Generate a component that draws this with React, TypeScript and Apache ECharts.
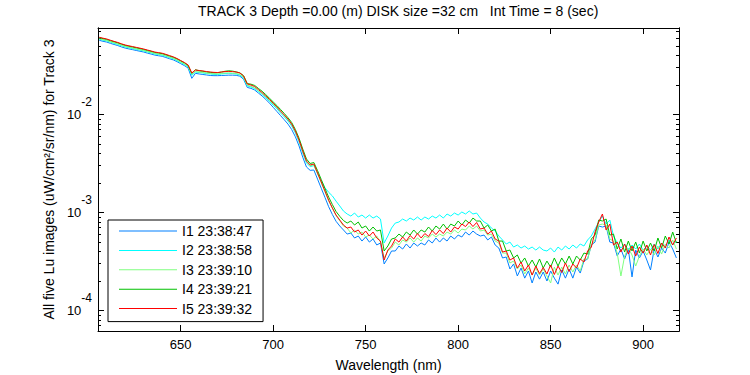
import React, { useEffect, useRef } from "react";
import * as echarts from "echarts";

const wavelengths = [
  606, 608, 610, 612, 614, 616, 618, 620, 622, 624,
  626, 628, 630, 632, 634, 636, 638, 640, 642, 644,
  646, 648, 650, 652, 654, 656, 658, 660, 662, 664,
  666, 668, 670, 672, 674, 676, 678, 680, 682, 684,
  686, 688, 690, 692, 694, 696, 698, 700, 702, 704,
  706, 708, 710, 712, 714, 716, 718, 720, 722, 724,
  726, 728, 730, 732, 734, 736, 738, 740, 742, 744,
  746, 748, 750, 752, 754, 756, 758, 760, 762, 764,
  766, 768, 770, 772, 774, 776, 778, 780, 782, 784,
  786, 788, 790, 792, 794, 796, 798, 800, 802, 804,
  806, 808, 810, 812, 814, 816, 818, 820, 822, 824,
  826, 828, 830, 832, 834, 836, 838, 840, 842, 844,
  846, 848, 850, 852, 854, 856, 858, 860, 862, 864,
  866, 868, 870, 872, 874, 876, 878, 880, 882, 884,
  886, 888, 890, 892, 894, 896, 898, 900, 902, 904,
  906, 908, 910, 912, 914, 916, 918,
];

const i1 = [
  0.0569, 0.0556, 0.0546, 0.053, 0.0516, 0.0503, 0.0487, 0.0474, 0.0465, 0.0457,
  0.0448, 0.044, 0.0432, 0.0421, 0.0412, 0.0402, 0.0396, 0.0391, 0.038, 0.0369,
  0.0359, 0.0345, 0.0329, 0.0314, 0.0297, 0.0233, 0.0262, 0.0258, 0.0255, 0.0252,
  0.0249, 0.0248, 0.0248, 0.0249, 0.025, 0.0251, 0.0251, 0.025, 0.0245, 0.0228,
  0.0188, 0.0184, 0.0177, 0.0165, 0.0154, 0.0142, 0.013, 0.0118, 0.0107, 0.0097,
  0.0088, 0.00795, 0.007, 0.0059, 0.00475, 0.00365, 0.0029, 0.00268, 0.0027, 0.00218,
  0.00176, 0.00142, 0.00114, 0.00095, 0.00081, 0.000725, 0.00066, 0.0006, 0.000615, 0.000547,
  0.000573, 0.000509, 0.00056, 0.000497, 0.000534, 0.000464, 0.000486, 0.000297, 0.000342, 0.000403,
  0.000403, 0.000453, 0.000422, 0.000475, 0.000432, 0.000486, 0.000453, 0.000486, 0.000464, 0.000522,
  0.000486, 0.000547, 0.000497, 0.000547, 0.000509, 0.000573, 0.000534, 0.000586, 0.00056, 0.000629,
  0.000586, 0.000644, 0.0006, 0.000573, 0.000586, 0.000522, 0.00056, 0.000464, 0.000432, 0.000342,
  0.00035, 0.000264, 0.000297, 0.000224, 0.00027, 0.000213, 0.000252, 0.00019, 0.000246, 0.000208,
  0.000246, 0.000199, 0.000252, 0.000213, 0.000185, 0.000258, 0.000213, 0.000264, 0.000213, 0.000276,
  0.00024, 0.000318, 0.000334, 0.000464, 0.000497, 0.000725, 0.000708, 0.000725, 0.000497, 0.000486,
  0.000358, 0.000422, 0.000334, 0.000422, 0.000219, 0.000412, 0.000342, 0.000403, 0.000326, 0.000258,
  0.000422, 0.00035, 0.000432, 0.000384, 0.000497, 0.000422, 0.000342,
];

const i2 = [
  0.0584, 0.0571, 0.0561, 0.0544, 0.053, 0.0517, 0.05, 0.0487, 0.0478, 0.0469,
  0.046, 0.0452, 0.0443, 0.0433, 0.0423, 0.0413, 0.0407, 0.0401, 0.0391, 0.0379,
  0.0369, 0.0354, 0.0338, 0.0323, 0.0305, 0.025, 0.027, 0.0267, 0.0264, 0.0261,
  0.0258, 0.0256, 0.0255, 0.0258, 0.0261, 0.0262, 0.0261, 0.0258, 0.0252, 0.0235,
  0.0195, 0.019, 0.0183, 0.0171, 0.016, 0.0147, 0.0136, 0.0124, 0.0114, 0.0103,
  0.0094, 0.00855, 0.0076, 0.00645, 0.00522, 0.00403, 0.00319, 0.00292, 0.003, 0.0025,
  0.0021, 0.00178, 0.0016, 0.00147, 0.0013, 0.00116, 0.00103, 0.000961, 0.000916, 0.000983,
  0.000895, 0.000938, 0.000874, 0.000938, 0.000874, 0.000916, 0.000854, 0.000486, 0.000573, 0.000691,
  0.000777, 0.000796, 0.000854, 0.000815, 0.000874, 0.000834, 0.000895, 0.000834, 0.000895, 0.000854,
  0.000916, 0.000874, 0.000938, 0.000874, 0.000961, 0.000916, 0.000983, 0.000938, 0.001007, 0.000961,
  0.001031, 0.000961, 0.000983, 0.000874, 0.000796, 0.000759, 0.000691, 0.000644, 0.000573, 0.000522,
  0.000475, 0.000497, 0.000442, 0.000464, 0.000432, 0.000453, 0.000422, 0.000442, 0.000412, 0.000442,
  0.000412, 0.000403, 0.000432, 0.000393, 0.000442, 0.000412, 0.000453, 0.000422, 0.000464, 0.000432,
  0.000475, 0.000453, 0.000522, 0.000573, 0.000675, 0.000796, 0.000916, 0.000759, 0.000834, 0.000573,
  0.000486, 0.000432, 0.000475, 0.000412, 0.000464, 0.000422, 0.000475, 0.000412, 0.000453, 0.000412,
  0.000475, 0.000422, 0.000486, 0.000442, 0.000522, 0.000464, 0.000509,
];

const i3 = [
  0.059, 0.0577, 0.0566, 0.055, 0.0536, 0.0522, 0.0506, 0.0492, 0.0483, 0.0474,
  0.0465, 0.0456, 0.0448, 0.0437, 0.0428, 0.0417, 0.0411, 0.0405, 0.0395, 0.0383,
  0.0372, 0.0358, 0.0342, 0.0326, 0.0308, 0.0256, 0.0273, 0.027, 0.0267, 0.0263,
  0.0261, 0.0259, 0.0258, 0.0261, 0.0264, 0.0264, 0.0263, 0.0261, 0.0255, 0.0238,
  0.0198, 0.0193, 0.0186, 0.0174, 0.0163, 0.0151, 0.0139, 0.0127, 0.0117, 0.0106,
  0.00966, 0.0088, 0.00782, 0.00662, 0.00537, 0.00414, 0.00328, 0.00298, 0.00305, 0.00247,
  0.002, 0.00162, 0.00131, 0.0011, 0.000925, 0.00082, 0.000725, 0.000691, 0.000615, 0.00066,
  0.0006, 0.000629, 0.00056, 0.000586, 0.000534, 0.000573, 0.000497, 0.000342, 0.000403, 0.000432,
  0.000497, 0.000464, 0.000522, 0.000497, 0.000547, 0.000497, 0.000547, 0.000509, 0.000573, 0.000547,
  0.0006, 0.00056, 0.0006, 0.000573, 0.000629, 0.0006, 0.00066, 0.000615, 0.000675, 0.00066,
  0.000725, 0.000675, 0.000725, 0.000644, 0.00066, 0.000586, 0.0006, 0.000509, 0.000486, 0.000384,
  0.000384, 0.000304, 0.000318, 0.000264, 0.00029, 0.000235, 0.00027, 0.000229, 0.00027, 0.000229,
  0.000264, 0.000224, 0.00019, 0.000276, 0.000229, 0.000276, 0.000235, 0.00029, 0.000246, 0.00029,
  0.000252, 0.000334, 0.000334, 0.000464, 0.000522, 0.000742, 0.000759, 0.000742, 0.000534, 0.000509,
  0.000384, 0.000224, 0.000358, 0.000432, 0.000367, 0.000283, 0.000358, 0.000422, 0.000367, 0.000422,
  0.000367, 0.000453, 0.000375, 0.000475, 0.000432, 0.000522, 0.000422,
];

const i4 = [
  0.0605, 0.0592, 0.0581, 0.0564, 0.055, 0.0536, 0.0519, 0.0505, 0.0495, 0.0486,
  0.0477, 0.0468, 0.0459, 0.0448, 0.0439, 0.0428, 0.0422, 0.0416, 0.0405, 0.0393,
  0.0382, 0.0368, 0.0351, 0.0335, 0.0316, 0.0262, 0.0285, 0.0278, 0.0275, 0.0271,
  0.0268, 0.0266, 0.0266, 0.027, 0.0275, 0.0278, 0.0276, 0.0271, 0.0265, 0.0248,
  0.0206, 0.0203, 0.0197, 0.0184, 0.0172, 0.0159, 0.0146, 0.0134, 0.0123, 0.0112,
  0.0102, 0.00925, 0.00825, 0.007, 0.0057, 0.00442, 0.0035, 0.00315, 0.00322, 0.00266,
  0.00216, 0.00175, 0.00143, 0.0012, 0.00102, 0.00091, 0.000825, 0.000777, 0.000815, 0.000742,
  0.000796, 0.000691, 0.000725, 0.000644, 0.000708, 0.000644, 0.00066, 0.000403, 0.000453, 0.000534,
  0.000547, 0.0006, 0.00056, 0.000629, 0.000586, 0.00066, 0.0006, 0.00066, 0.000629, 0.000708,
  0.000644, 0.000725, 0.000675, 0.000759, 0.000675, 0.000759, 0.000725, 0.000815, 0.000742, 0.000834,
  0.000777, 0.000874, 0.000815, 0.000815, 0.000691, 0.000742, 0.000644, 0.000675, 0.000509, 0.000509,
  0.000403, 0.000412, 0.000342, 0.000367, 0.000304, 0.000342, 0.000283, 0.000326, 0.000276, 0.000334,
  0.00027, 0.000318, 0.000276, 0.000342, 0.000283, 0.000342, 0.000297, 0.000358, 0.000297, 0.000358,
  0.000326, 0.000384, 0.000375, 0.000534, 0.000586, 0.000834, 0.000815, 0.000854, 0.000586, 0.0006,
  0.000422, 0.000534, 0.000393, 0.000509, 0.000403, 0.000497, 0.000384, 0.000509, 0.000403, 0.000486,
  0.000403, 0.000547, 0.000432, 0.000573, 0.000475, 0.000629, 0.000486,
];

const i5 = [
  0.0611, 0.0598, 0.0587, 0.057, 0.0555, 0.0541, 0.0524, 0.051, 0.05, 0.0491,
  0.0482, 0.0473, 0.0464, 0.0453, 0.0443, 0.0432, 0.0426, 0.042, 0.0409, 0.0397,
  0.0386, 0.0371, 0.0354, 0.0338, 0.0319, 0.0264, 0.0283, 0.028, 0.0277, 0.0273,
  0.027, 0.0268, 0.0267, 0.027, 0.0273, 0.0274, 0.0273, 0.027, 0.0264, 0.0246,
  0.0204, 0.0199, 0.0192, 0.0179, 0.0167, 0.0154, 0.0142, 0.013, 0.0119, 0.0108,
  0.00984, 0.00895, 0.00796, 0.00675, 0.00547, 0.00422, 0.00334, 0.00304, 0.00311, 0.00252,
  0.00204, 0.00165, 0.00133, 0.00111, 0.000938, 0.000834, 0.000742, 0.000691, 0.000708, 0.000629,
  0.00066, 0.000586, 0.000644, 0.000573, 0.000629, 0.000547, 0.000509, 0.000326, 0.000412, 0.000453,
  0.000534, 0.000497, 0.00056, 0.000509, 0.00058, 0.000534, 0.000607, 0.000547, 0.000607, 0.000566,
  0.000652, 0.000593, 0.00066, 0.000607, 0.000691, 0.000629, 0.000708, 0.000675, 0.000759, 0.000716,
  0.000796, 0.000716, 0.000787, 0.000675, 0.000691, 0.0006, 0.000644, 0.000534, 0.000509, 0.000393,
  0.000403, 0.000326, 0.000342, 0.00027, 0.000311, 0.000252, 0.00029, 0.000229, 0.000283, 0.000237,
  0.000273, 0.000235, 0.00029, 0.000232, 0.000283, 0.000243, 0.000304, 0.000249, 0.000297, 0.00027,
  0.000334, 0.000311, 0.000403, 0.000442, 0.000629, 0.000796, 0.000961, 0.00066, 0.000759, 0.000464,
  0.000497, 0.000393, 0.000475, 0.000375, 0.000453, 0.000358, 0.000442, 0.000384, 0.000464, 0.000367,
  0.00047, 0.00038, 0.000486, 0.000432, 0.00056, 0.000464, 0.000547,
];

const seriesNames = ["I1 23:38:47", "I2 23:38:58", "I3 23:39:10", "I4 23:39:21", "I5 23:39:32"];
const seriesColors = ["#0080ff", "#00ffff", "#80ff80", "#00c000", "#ff0000"];
const xTicks = [650, 700, 750, 800, 850, 900];
const yTicks = [0.0001, 0.001, 0.01];
const yMinorTicks = [
  0.00007, 0.00008, 0.00009,
  0.0002, 0.0003, 0.0004, 0.0005, 0.0006, 0.0007, 0.0008, 0.0009,
  0.002, 0.003, 0.004, 0.005, 0.006, 0.007, 0.008, 0.009,
  0.02, 0.03, 0.04, 0.05, 0.06, 0.07,
];

const X_MIN = 605.3;
const X_MAX = 919.4;
const Y_MIN = 0.0000615;
const Y_MAX = 0.076;

const FONT = "'Liberation Sans', Arial, Helvetica, sans-serif";

export default function App() {
  const ref = useRef<HTMLDivElement>(null);

  useEffect(() => {
    const chart = echarts.init(ref.current as HTMLDivElement, null, { renderer: "svg" });
    const allSeries = [i1, i2, i3, i4, i5];
    const black = { color: "#000", width: 1 };

    const xAxisBase = (position: string, withLabels: boolean) => ({
      type: "value",
      min: X_MIN,
      max: X_MAX,
      position,
      axisLine: { show: true, onZero: false, lineStyle: black },
      axisTick: { show: true, inside: true, length: 6, customValues: xTicks, lineStyle: black },
      axisLabel: withLabels
        ? { show: true, customValues: xTicks, color: "#000", fontSize: 13, fontFamily: FONT, margin: 7 }
        : { show: false },
      splitLine: { show: false },
      ...(withLabels
        ? {
            name: "Wavelength (nm)",
            nameLocation: "middle",
            nameGap: 27,
            nameTextStyle: { color: "#000", fontSize: 14, fontFamily: FONT },
          }
        : {}),
    });

    const yAxisBase = (position: string, ticks: number[], len: number, withLabels: boolean) => ({
      type: "log",
      logBase: 10,
      min: Y_MIN,
      max: Y_MAX,
      position,
      axisLine: { show: true, onZero: false, lineStyle: black },
      axisTick: { show: true, inside: true, length: len, customValues: ticks, lineStyle: black },
      axisLabel: withLabels
        ? {
            show: true,
            customValues: yTicks,
            margin: 6,
            formatter: (v: number) => "{b|10}{s|" + Math.round(Math.log10(v)) + "}",
            rich: {
              b: { fontSize: 13, fontFamily: FONT, color: "#000" },
              s: { fontSize: 12, fontFamily: FONT, color: "#000", verticalAlign: "top", lineHeight: 37 },
            },
          }
        : { show: false },
      splitLine: { show: false },
      minorTick: { show: false },
      ...(withLabels
        ? {
            name: "All five Lu images (uW/cm\u00b2/sr/nm) for Track 3",
            nameLocation: "middle",
            nameGap: 37,
            nameTextStyle: { color: "#000", fontSize: 14, fontFamily: FONT },
          }
        : {}),
    });

    chart.setOption({
      animation: false,
      backgroundColor: "#fff",
      title: {
        text: "TRACK 3 Depth =0.00 (m) DISK size =32 cm   Int Time = 8 (sec)",
        left: 198,
        top: 4,
        padding: 0,
        textStyle: { color: "#000", fontSize: 14, fontWeight: "normal", fontFamily: FONT },
      },
      grid: { left: 98, right: 71, top: 28, bottom: 44, containLabel: false, outerBoundsMode: "none" },
      legend: {
        data: seriesNames,
        orient: "vertical",
        left: 108,
        top: 220,
        padding: [3, 11, 5, 11],
        itemGap: 3.4,
        itemWidth: 58,
        itemHeight: 1,
        icon: "rect",
        selectedMode: false,
        backgroundColor: "#fff",
        borderColor: "#000",
        borderWidth: 1,
        borderRadius: 0,
        textStyle: { color: "#000", fontSize: 14, fontFamily: FONT, lineHeight: 16 },
      },
      xAxis: [xAxisBase("bottom", true), xAxisBase("top", false)],
      yAxis: [
        yAxisBase("left", yTicks, 6, true),
        yAxisBase("left", yMinorTicks, 3, false),
        yAxisBase("right", yTicks, 6, false),
        yAxisBase("right", yMinorTicks, 3, false),
      ],
      series: allSeries.map((vals, si) => ({
        name: seriesNames[si],
        type: "line",
        xAxisIndex: 0,
        yAxisIndex: 0,
        symbol: "none",
        showSymbol: false,
        silent: true,
        color: seriesColors[si],
        lineStyle: { color: seriesColors[si], width: 1 },
        data: wavelengths.map((w, i) => [w, vals[i]]),
        z: 2 + si,
      })),
    });

    return () => chart.dispose();
  }, []);

  return (
    <div
      ref={ref}
      style={{ position: "absolute", left: 0, top: 0, width: 750, height: 375, background: "#fff" }}
    />
  );
}
